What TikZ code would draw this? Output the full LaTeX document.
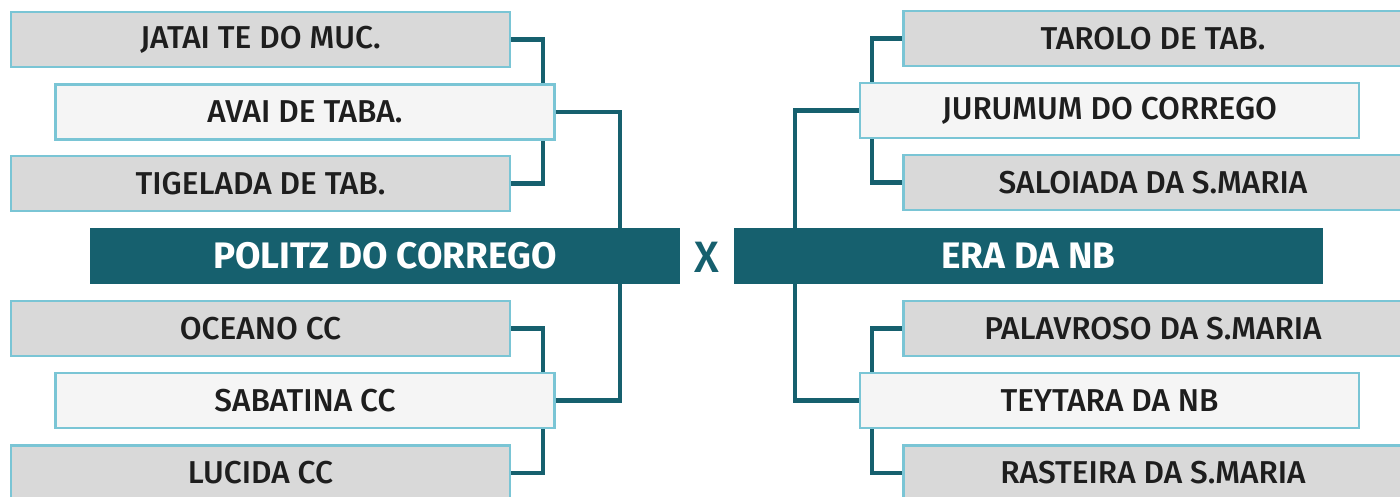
\documentclass[tikz,border=0pt]{standalone}
\usepackage{fontspec}
\setmainfont{Fira Sans}[UprightFont=* Medium, BoldFont=* Bold]
\usepackage{xcolor}
\usepackage{tikz}
\usetikzlibrary{positioning,calc}

\definecolor{barteal}{RGB}{22,96,110}
\definecolor{edgeblue}{RGB}{122,197,213}
\definecolor{boxgray}{RGB}{217,217,217}
\definecolor{boxwhite}{RGB}{245,245,245}
\definecolor{ink}{RGB}{30,30,30}

\begin{document}
\begin{tikzpicture}[
  x=0.02cm, y=-0.02cm,
  team/.style={draw=edgeblue, line width=1.6pt, fill=boxgray, minimum width=9.98cm, minimum height=1.1cm, inner sep=0pt, text=ink, font=\fontsize{18}{20}\selectfont},
  winner/.style={team, fill=boxwhite},
  final/.style={fill=barteal, minimum width=11.8cm, minimum height=1.12cm, inner sep=0pt, text=white, font=\fontsize{21}{24}\selectfont\bfseries},
  link/.style={draw=barteal, line width=2.3pt}
]
  \useasboundingbox (0,0) rectangle (1400,497);

  % left bracket
  \node[team] (jatai) at (260.5,39.5) {JATAI TE DO MUC.};
  \node[winner] (avai) at (305,112) {AVAI DE TABA.};
  \node[team] (tigelada) at (260.5,183.5) {TIGELADA DE TAB.};
  \node[final] (politz) at (385,256) {POLITZ DO CORREGO};
  \node[team] (oceano) at (260.5,328.5) {OCEANO CC};
  \node[winner] (sabatina) at (305,400.5) {SABATINA CC};
  \node[team] (lucida) at (260.5,473) {LUCIDA CC};

  % right bracket
  \node[team] (tarolo) at (1153,38.5) {TAROLO DE TAB.};
  \node[winner] (jurumum) at (1109.5,110.5) {JURUMUM DO CORREGO};
  \node[team] (saloiada) at (1153,182.5) {SALOIADA DA S.MARIA};
  \node[final] (era) at (1028.5,256) {ERA DA NB};
  \node[team] (palavroso) at (1153,328.5) {PALAVROSO DA S.MARIA};
  \node[winner] (teytara) at (1109.5,400.5) {TEYTARA DA NB};
  \node[team] (rasteira) at (1153,473) {RASTEIRA DA S.MARIA};

  \node[text=barteal, font=\fontsize{25}{28}\selectfont] (versus) at (707,257) {X};

  \draw[link] (jatai.east) -| ([xshift=-0.26cm]avai.north east);
  \draw[link] (tigelada.east) -| ([xshift=-0.26cm]avai.south east);
  \draw[link] (avai.east) -| ([xshift=-1.2cm]politz.north east);
  \draw[link] (oceano.east) -| ([xshift=-0.26cm]sabatina.north east);
  \draw[link] (lucida.east) -| ([xshift=-0.26cm]sabatina.south east);
  \draw[link] (sabatina.east) -| ([xshift=-1.2cm]politz.south east);

  \draw[link] (tarolo.west) -| ([xshift=0.26cm]jurumum.north west);
  \draw[link] (saloiada.west) -| ([xshift=0.26cm]jurumum.south west);
  \draw[link] (jurumum.west) -| ([xshift=1.24cm]era.north west);
  \draw[link] (palavroso.west) -| ([xshift=0.26cm]teytara.north west);
  \draw[link] (rasteira.west) -| ([xshift=0.26cm]teytara.south west);
  \draw[link] (teytara.west) -| ([xshift=1.24cm]era.south west);
\end{tikzpicture}
\end{document}
